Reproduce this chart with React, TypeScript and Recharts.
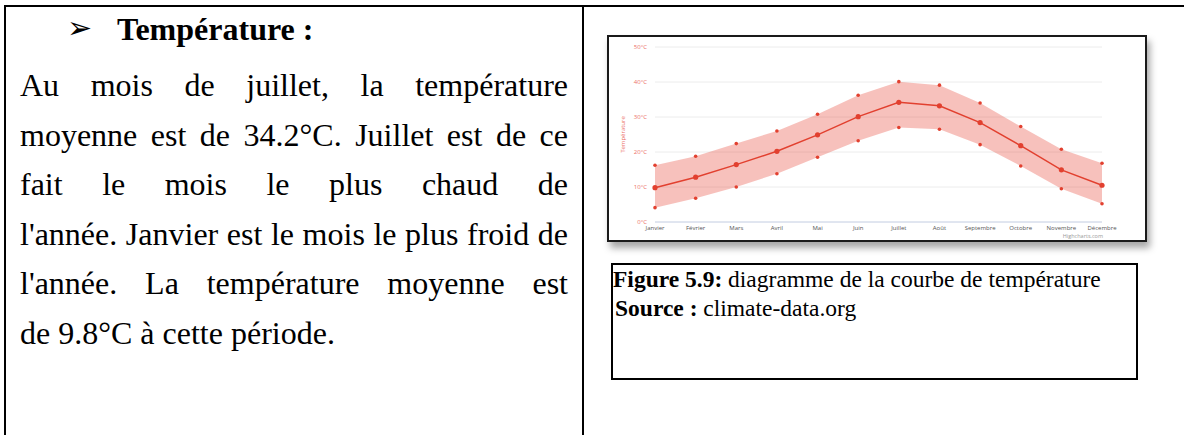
import {
  Area,
  CartesianGrid,
  ComposedChart,
  Line,
  XAxis,
  YAxis
} from "recharts";

const months = [
  "Janvier",
  "Février",
  "Mars",
  "Avril",
  "Mai",
  "Juin",
  "Juillet",
  "Août",
  "Septembre",
  "Octobre",
  "Novembre",
  "Décembre"
];
const tempMean = [9.8, 12.8, 16.4, 20.2, 24.9, 30.1, 34.2, 33.2, 28.4, 21.8, 14.9, 10.5];
const tempMin = [4.1, 6.8, 10.0, 13.8, 18.5, 23.2, 27.0, 26.5, 22.1, 16.0, 9.5, 5.2];
const tempMax = [16.2, 18.8, 22.4, 26.0, 30.8, 36.2, 40.1, 39.1, 34.0, 27.3, 20.8, 16.8];
const yTicks = [0, 10, 20, 30, 40, 50];

const bodyLines = [
  "Au mois de juillet, la température",
  "moyenne est de 34.2°C. Juillet est de ce",
  "fait le mois le plus chaud de",
  "l'année. Janvier est le mois le plus froid de",
  "l'année. La température moyenne est",
  "de 9.8°C à cette période."
];

const data = months.map((month, i) => ({
  month,
  mean: tempMean[i],
  min: tempMin[i],
  max: tempMax[i],
  range: [tempMin[i], tempMax[i]]
}));

const RED = "#e2402f";
const serif = "'Liberation Serif', 'Times New Roman', serif";

function TempChart() {
  return (
    <ComposedChart
      width={536}
      height={203}
      data={data}
      margin={{ top: 10, right: 43, left: 0, bottom: 0 }}
    >
      <CartesianGrid vertical={false} stroke="#ececec" />
      <XAxis
        dataKey="month"
        tick={{ fill: "#555", fontSize: 6, fontFamily: "'Open Sans', sans-serif" }}
        tickLine={false}
        tickSize={3}
        tickMargin={1}
        height={18}
        interval={0}
        axisLine={{ stroke: "#ccd6eb" }}
      />
      <YAxis
        width={46}
        domain={[0, 50]}
        ticks={yTicks}
        tickFormatter={(v: number) => `${v}°C`}
        tick={{ fill: "#ec6f66", fontSize: 6, fontFamily: "'Open Sans', sans-serif" }}
        tickLine={false}
        axisLine={false}
        label={{
          value: "Température",
          angle: -90,
          position: "insideLeft",
          offset: 14,
          textAnchor: "middle",
          fill: "#ec6f66",
          fontSize: 6,
          fontFamily: "'Open Sans', sans-serif"
        }}
      />
      <Area
        type="linear"
        dataKey="range"
        stroke="none"
        fill="#e84a3a"
        fillOpacity={0.34}
        dot={false}
        activeDot={false}
        isAnimationActive={false}
      />
      <Line
        type="linear"
        dataKey="max"
        stroke="none"
        dot={{ r: 1.8, fill: RED, stroke: "none" }}
        activeDot={false}
        isAnimationActive={false}
      />
      <Line
        type="linear"
        dataKey="min"
        stroke="none"
        dot={{ r: 1.8, fill: RED, stroke: "none" }}
        activeDot={false}
        isAnimationActive={false}
      />
      <Line
        type="linear"
        dataKey="mean"
        stroke={RED}
        strokeWidth={1.5}
        dot={{ r: 2.6, fill: RED, stroke: "none" }}
        activeDot={false}
        isAnimationActive={false}
      />
    </ComposedChart>
  );
}

export default function App() {
  return (
    <div
      style={{
        position: "absolute",
        left: 0,
        top: 0,
        width: 1184,
        height: 435,
        background: "#fff",
        overflow: "hidden",
        fontFamily: serif,
        color: "#000"
      }}
    >
      {/* table borders */}
      <div style={{ position: "absolute", left: 4, top: 5, width: 1180, height: 2, background: "#000" }} />
      <div style={{ position: "absolute", left: 4, top: 5, width: 2, height: 430, background: "#000" }} />
      <div style={{ position: "absolute", left: 582, top: 5, width: 2, height: 430, background: "#000" }} />

      {/* left cell text */}
      <div
        style={{
          position: "absolute",
          left: 67,
          top: 8,
          lineHeight: "40px",
          fontFamily: "'DejaVu Sans', sans-serif",
          fontSize: 30
        }}
      >
        ➢
      </div>
      <div
        style={{
          position: "absolute",
          left: 117,
          top: 5,
          fontSize: 32,
          lineHeight: "49.5px",
          fontWeight: "bold",
          whiteSpace: "nowrap"
        }}
      >
        Température :
      </div>
      {bodyLines.map((line, i) => (
        <div
          key={i}
          style={{
            position: "absolute",
            left: 20,
            top: 61 + i * 49.6,
            width: 548,
            fontSize: 32,
            lineHeight: "49.5px",
            whiteSpace: "nowrap",
            textAlign: i < bodyLines.length - 1 ? "justify" : "left",
            textAlignLast: i < bodyLines.length - 1 ? "justify" : "left"
          }}
        >
          {line}
        </div>
      ))}

      {/* chart image */}
      <div
        style={{
          position: "absolute",
          left: 607,
          top: 35,
          width: 540,
          height: 207,
          boxSizing: "border-box",
          border: "2px solid #1a1a1a",
          background: "#fff",
          boxShadow: "3px 6px 7px rgba(0,0,0,0.35)"
        }}
      >
        <TempChart />
        <div
          style={{
            position: "absolute",
            right: 42,
            top: 196,
            fontSize: 5.5,
            color: "#999",
            fontFamily: "'Open Sans', sans-serif",
            lineHeight: "7px"
          }}
        >
          Highcharts.com
        </div>
      </div>

      {/* caption box */}
      <div
        style={{
          position: "absolute",
          left: 611,
          top: 263,
          width: 527,
          height: 117,
          boxSizing: "border-box",
          border: "2px solid #000"
        }}
      />
      <div
        style={{
          position: "absolute",
          left: 613,
          top: 265,
          fontSize: 23.5,
          lineHeight: "29px",
          whiteSpace: "nowrap"
        }}
      >
        <div>
          <b>Figure 5.9:</b> diagramme de la courbe de température
        </div>
        <div style={{ paddingLeft: 2 }}>
          <b>Source :</b> climate-data.org
        </div>
      </div>
    </div>
  );
}
